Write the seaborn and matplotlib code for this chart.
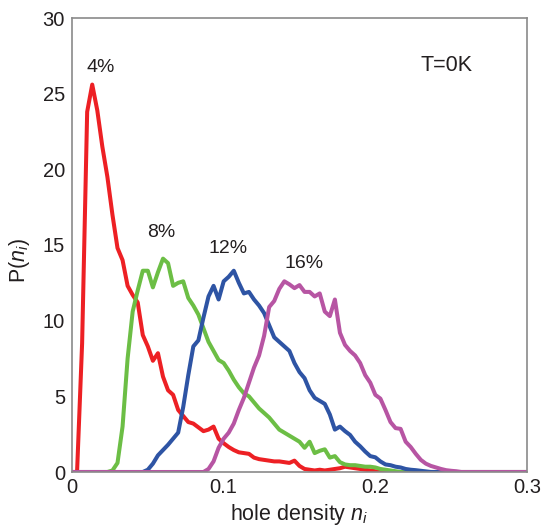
import numpy as np
import pandas as pd
import matplotlib
matplotlib.use("Agg")
import matplotlib.pyplot as plt
import seaborn as sns

# Histogram bins of the local hole density (bin width 1/300)
bin_width = 1 / 300
n_bins = 91
hole_density = np.arange(n_bins) * bin_width

# P(n_i) for each average doping level
p_4 = [0, 0, 8.5, 23.8, 25.6, 23.9, 21.5, 19.5, 17.0, 14.8,
       14.0, 12.3, 11.7, 11.2, 9.05, 8.3, 7.35, 7.85, 6.3, 5.4,
       5.1, 4.1, 3.7, 3.3, 3.2, 2.95, 2.7, 2.8, 3.0, 2.2,
       1.9, 1.65, 1.45, 1.3, 1.25, 1.2, 0.95, 0.85, 0.8, 0.75,
       0.7, 0.7, 0.65, 0.6, 0.75, 0.4, 0.2, 0.15, 0.1, 0.15,
       0.1, 0.15, 0.2, 0.25, 0.35, 0.3, 0.25, 0.2, 0.15, 0.1,
       0.05, 0, 0, 0, 0, 0, 0, 0, 0, 0,
       0, 0, 0, 0, 0, 0, 0, 0, 0, 0,
       0, 0, 0, 0, 0, 0, 0, 0, 0, 0,
       0]
p_8 = [0, 0, 0, 0, 0, 0, 0, 0, 0.1, 0.6,
       3.0, 7.5, 10.6, 12.0, 13.3, 13.3, 12.2, 13.2, 14.1, 13.8,
       12.3, 12.5, 12.6, 11.5, 11.0, 10.4, 9.5, 8.6, 8.0, 7.4,
       7.2, 6.7, 6.1, 5.6, 5.2, 5.0, 4.6, 4.2, 3.9, 3.6,
       3.2, 2.8, 2.6, 2.4, 2.2, 2.0, 1.6, 2.0, 1.25, 1.4,
       1.5, 0.95, 1.05, 0.65, 0.5, 0.45, 0.45, 0.4, 0.35, 0.35,
       0.3, 0.2, 0.15, 0.1, 0.05, 0, 0, 0, 0, 0,
       0, 0, 0, 0, 0, 0, 0, 0, 0, 0,
       0, 0, 0, 0, 0, 0, 0, 0, 0, 0,
       0]
p_12 = [0, 0, 0, 0, 0, 0, 0, 0, 0, 0,
        0, 0, 0, 0, 0, 0.15, 0.55, 1.1, 1.45, 1.8,
        2.2, 2.6, 4.3, 6.4, 8.3, 8.7, 10.2, 11.6, 12.3, 11.4,
        12.6, 12.9, 13.3, 12.5, 11.8, 11.9, 11.4, 11.0, 10.5, 9.7,
        8.9, 8.6, 8.3, 8.0, 7.2, 6.6, 6.2, 5.4, 4.9, 4.7,
        4.5, 3.8, 2.8, 3.0, 2.7, 2.45, 2.0, 1.7, 1.35, 1.05,
        0.97, 0.7, 0.5, 0.45, 0.35, 0.3, 0.2, 0.15, 0.12, 0.08,
        0.04, 0, 0, 0, 0, 0, 0, 0, 0, 0,
        0, 0, 0, 0, 0, 0, 0, 0, 0, 0,
        0]
p_16 = [0, 0, 0, 0, 0, 0, 0, 0, 0, 0,
        0, 0, 0, 0, 0, 0, 0, 0, 0, 0,
        0, 0, 0, 0, 0, 0, 0, 0.2, 0.7, 1.6,
        2.2, 2.6, 3.2, 4.1, 4.9, 5.9, 6.9, 7.7, 9.0, 10.9,
        11.3, 12.1, 12.6, 12.4, 12.15, 12.35, 11.9, 11.9, 11.6, 11.8,
        10.6, 10.3, 11.4, 9.2, 8.4, 8.0, 7.7, 7.2, 6.4, 5.9,
        5.1, 4.85, 4.1, 3.3, 2.9, 2.85, 2.0, 1.65, 1.2, 0.8,
        0.55, 0.4, 0.3, 0.2, 0.12, 0.08, 0.05, 0, 0, 0,
        0, 0, 0, 0, 0, 0, 0, 0, 0, 0,
        0]

doping_labels = ["4%", "8%", "12%", "16%"]
series = [p_4, p_8, p_12, p_16]
colors = ["#ED2024", "#6CBE45", "#2E54A4", "#B755A3"]

# Label positions (data coordinates, baseline of the text)
label_x = [0.0191, 0.0590, 0.1028, 0.1533]
label_y = [26.4, 15.5, 14.45, 13.45]

frames = []
for lab, vals in zip(doping_labels, series):
    frames.append(pd.DataFrame({"n": hole_density, "P": vals, "doping": lab}))
df = pd.concat(frames, ignore_index=True)

sns.set_theme(style="white")
plt.rcParams["font.family"] = ["Liberation Sans", "DejaVu Sans"]
plt.rcParams["mathtext.fontset"] = "custom"
plt.rcParams["mathtext.rm"] = "Liberation Sans"
plt.rcParams["mathtext.it"] = "Liberation Sans:italic"

text_color = "#231F20"
spine_color = "#8A8A8A"

fig = plt.figure(figsize=(5.43, 5.28), dpi=100)
ax = fig.add_axes([72 / 543, 56 / 528, 455 / 543, 454 / 528])

sns.lineplot(data=df, x="n", y="P", hue="doping",
             palette=dict(zip(doping_labels, colors)),
             hue_order=doping_labels, linewidth=2.9,
             legend=False, errorbar=None, sort=False, ax=ax)

ax.set_xlim(0, 0.3)
ax.set_ylim(0, 30)
ax.set_xticks([0, 0.1, 0.2, 0.3])
ax.set_xticklabels(["0", "0.1", "0.2", "0.3"])
ax.set_yticks([0, 5, 10, 15, 20, 25, 30])

for s in ax.spines.values():
    s.set_color(spine_color)
    s.set_linewidth(1.2)
    s.set_visible(True)

ax.tick_params(axis="both", direction="in", length=4.5, width=1,
               color=spine_color, labelsize=14.5, labelcolor=text_color)
ax.tick_params(axis="x", pad=4)
ax.tick_params(axis="y", pad=5)

ax.set_xlabel("hole density $n_i$", fontsize=15.5, color=text_color, labelpad=4)
ax.set_ylabel("P($n_i$)", fontsize=15.5, color=text_color)
ax.yaxis.set_label_coords(-0.088, 0.467)

for lab, x, y in zip(doping_labels, label_x, label_y):
    ax.text(x, y, lab, fontsize=14, color=text_color, ha="center", va="baseline")

ax.text(0.2472, 26.5, "T=0K", fontsize=15.5, color=text_color,
        ha="center", va="baseline")

fig.savefig("out.png", dpi=100)
